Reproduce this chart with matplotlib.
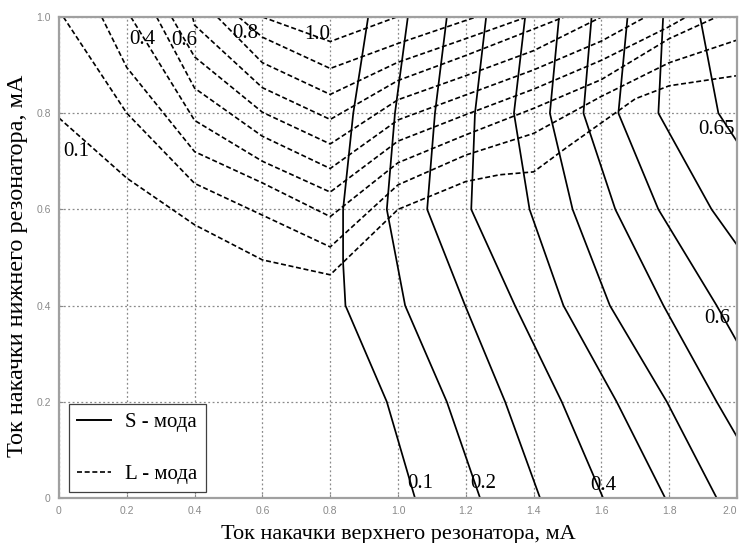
import matplotlib
matplotlib.use("Agg")
import matplotlib.pyplot as plt
from matplotlib.lines import Line2D

# L-mode isolines (dashed), levels 0.1 ... 1.0
l_levels = [0.1, 0.2, 0.3, 0.4, 0.5, 0.6, 0.7, 0.8, 0.9, 1.0]
l_x = [
    [0.0, 0.2, 0.4, 0.6, 0.8, 1.0, 1.2, 1.3, 1.4, 1.5, 1.6, 1.7, 1.8, 2.0],
    [0.013, 0.2, 0.4, 0.6, 0.8, 1.0, 1.2, 1.4, 1.6, 1.8, 2.0],
    [0.126, 0.2, 0.4, 0.6, 0.8, 1.0, 1.2, 1.4, 1.6, 1.8, 1.94],
    [0.212, 0.4, 0.6, 0.8, 1.0, 1.2, 1.4, 1.6, 1.8, 1.85],
    [0.288, 0.4, 0.6, 0.8, 1.0, 1.2, 1.4, 1.6, 1.73],
    [0.332, 0.4, 0.6, 0.8, 1.0, 1.2, 1.4, 1.6],
    [0.394, 0.4, 0.6, 0.8, 1.0, 1.2, 1.4, 1.49],
    [0.467, 0.6, 0.8, 1.0, 1.2, 1.38],
    [0.53, 0.6, 0.8, 1.0, 1.23],
    [0.60, 0.8, 0.996],
]
l_y = [
    [0.79, 0.665, 0.568, 0.495, 0.464, 0.600, 0.658, 0.672, 0.678, 0.73, 0.78, 0.83, 0.857, 0.878],
    [1.0, 0.80, 0.654, 0.588, 0.522, 0.651, 0.713, 0.758, 0.835, 0.905, 0.952],
    [1.0, 0.895, 0.72, 0.655, 0.585, 0.697, 0.755, 0.81, 0.87, 0.955, 1.0],
    [1.0, 0.785, 0.70, 0.636, 0.742, 0.797, 0.85, 0.91, 0.98, 1.0],
    [1.0, 0.852, 0.752, 0.685, 0.786, 0.838, 0.89, 0.95, 1.0],
    [1.0, 0.917, 0.802, 0.736, 0.828, 0.878, 0.93, 1.0],
    [1.0, 0.983, 0.853, 0.787, 0.868, 0.92, 0.975, 1.0],
    [1.0, 0.905, 0.839, 0.906, 0.955, 1.0],
    [1.0, 0.958, 0.893, 0.945, 1.0],
    [1.0, 0.949, 1.0],
]

# S-mode isolines (solid)
s_levels = [0.1, 0.2, 0.3, 0.4, 0.45, 0.5, 0.55, 0.6, 0.625, 0.65]
s_x = [
    [0.912, 0.868, 0.838, 0.838, 0.845, 0.967, 1.05],
    [1.029, 0.991, 0.967, 1.021, 1.144, 1.242],
    [1.144, 1.109, 1.086, 1.198, 1.316, 1.419],
    [1.26, 1.227, 1.216, 1.345, 1.483, 1.605],
    [1.375, 1.342, 1.388, 1.488, 1.645, 1.788],
    [1.475, 1.448, 1.515, 1.625, 1.793, 1.94],
    [1.571, 1.547, 1.641, 1.783, 1.94, 2.0],
    [1.677, 1.65, 1.768, 1.94, 2.0],
    [1.782, 1.768, 1.925, 2.0],
    [1.891, 1.945, 2.0],
]
s_y = [
    [1.0, 0.8, 0.6, 0.49, 0.4, 0.2, 0.0],
    [1.0, 0.8, 0.6, 0.4, 0.2, 0.0],
    [1.0, 0.8, 0.6, 0.4, 0.2, 0.0],
    [1.0, 0.8, 0.6, 0.4, 0.2, 0.0],
    [1.0, 0.8, 0.6, 0.4, 0.2, 0.0],
    [1.0, 0.8, 0.6, 0.4, 0.2, 0.0],
    [1.0, 0.8, 0.6, 0.4, 0.2, 0.127],
    [1.0, 0.8, 0.6, 0.4, 0.325],
    [1.0, 0.8, 0.6, 0.526],
    [1.0, 0.8, 0.741],
]

# contour labels: text, x, y
l_labels = [("0.1", 0.05, 0.72), ("0.4", 0.246, 0.954), ("0.6", 0.37, 0.952),
            ("0.8", 0.55, 0.965), ("1.0", 0.763, 0.963)]
s_labels = [("0.1", 1.065, 0.03), ("0.2", 1.25, 0.03), ("0.4", 1.606, 0.025),
            ("0.6", 1.943, 0.373), ("0.65", 1.94, 0.767)]

x_ticks = [0, 0.2, 0.4, 0.6, 0.8, 1.0, 1.2, 1.4, 1.6, 1.8, 2.0]
x_ticklabels = ["0", "0.2", "0.4", "0.6", "0.8", "1.0", "1.2", "1.4", "1.6", "1.8", "2.0"]
y_ticks = [0, 0.2, 0.4, 0.6, 0.8, 1.0]
y_ticklabels = ["0", "0.2", "0.4", "0.6", "0.8", "1.0"]

serif = "Liberation Serif"
grey = "#8a8a8a"

fig = plt.figure(figsize=(7.42, 5.43), dpi=100)
ax = fig.add_axes([0.0795, 0.0829, 0.9138, 0.8858])

for xs, ys in zip(l_x, l_y):
    ax.plot(xs, ys, color="k", linewidth=1.2, dashes=(3.0, 1.6))
for xs, ys in zip(s_x, s_y):
    ax.plot(xs, ys, color="k", linewidth=1.25, linestyle="-")

for txt, x, y in l_labels + s_labels:
    ax.text(x, y, txt, family=serif, fontsize=15, ha="center", va="center")

ax.set_xlim(0, 2.0)
ax.set_ylim(0, 1.0)
ax.set_xticks(x_ticks)
ax.set_xticklabels(x_ticklabels)
ax.set_yticks(y_ticks)
ax.set_yticklabels(y_ticklabels)
ax.tick_params(direction="in", length=3, color=grey, labelcolor=grey,
               labelsize=7.5, pad=6)
for lab in ax.get_xticklabels() + ax.get_yticklabels():
    lab.set_family("Liberation Sans")
# last x tick label sits at the right edge; keep it inside the figure
ax.get_xticklabels()[-1].set_horizontalalignment("right")
ax.grid(True, linestyle=(0, (1.5, 2.0)), color=grey, linewidth=0.9)
for sp in ax.spines.values():
    sp.set_color("#a0a0a0")
    sp.set_linewidth(1.6)

ax.set_xlabel("Ток накачки верхнего резонатора, мА", family=serif, fontsize=16, labelpad=6)
ax.set_ylabel("Ток накачки нижнего резонатора, мА", family=serif, fontsize=17.5)
ax.yaxis.set_label_coords(-0.046, 0.482)

handles = [Line2D([], [], color="k", linewidth=1.4, linestyle="-"),
           Line2D([], [], color="k", linewidth=1.2, dashes=(3.0, 1.6))]
leg = ax.legend(handles, ["S - мода", "L - мода"], loc="lower left",
                bbox_to_anchor=(0.015, 0.012), borderaxespad=0,
                prop={"family": serif, "size": 15}, labelspacing=1.55,
                handlelength=1.6, handletextpad=0.7, borderpad=0.4,
                fancybox=False, framealpha=1)
leg.get_frame().set_edgecolor("#404040")
leg.get_frame().set_linewidth(0.9)

fig.savefig("out.png", dpi=100)
